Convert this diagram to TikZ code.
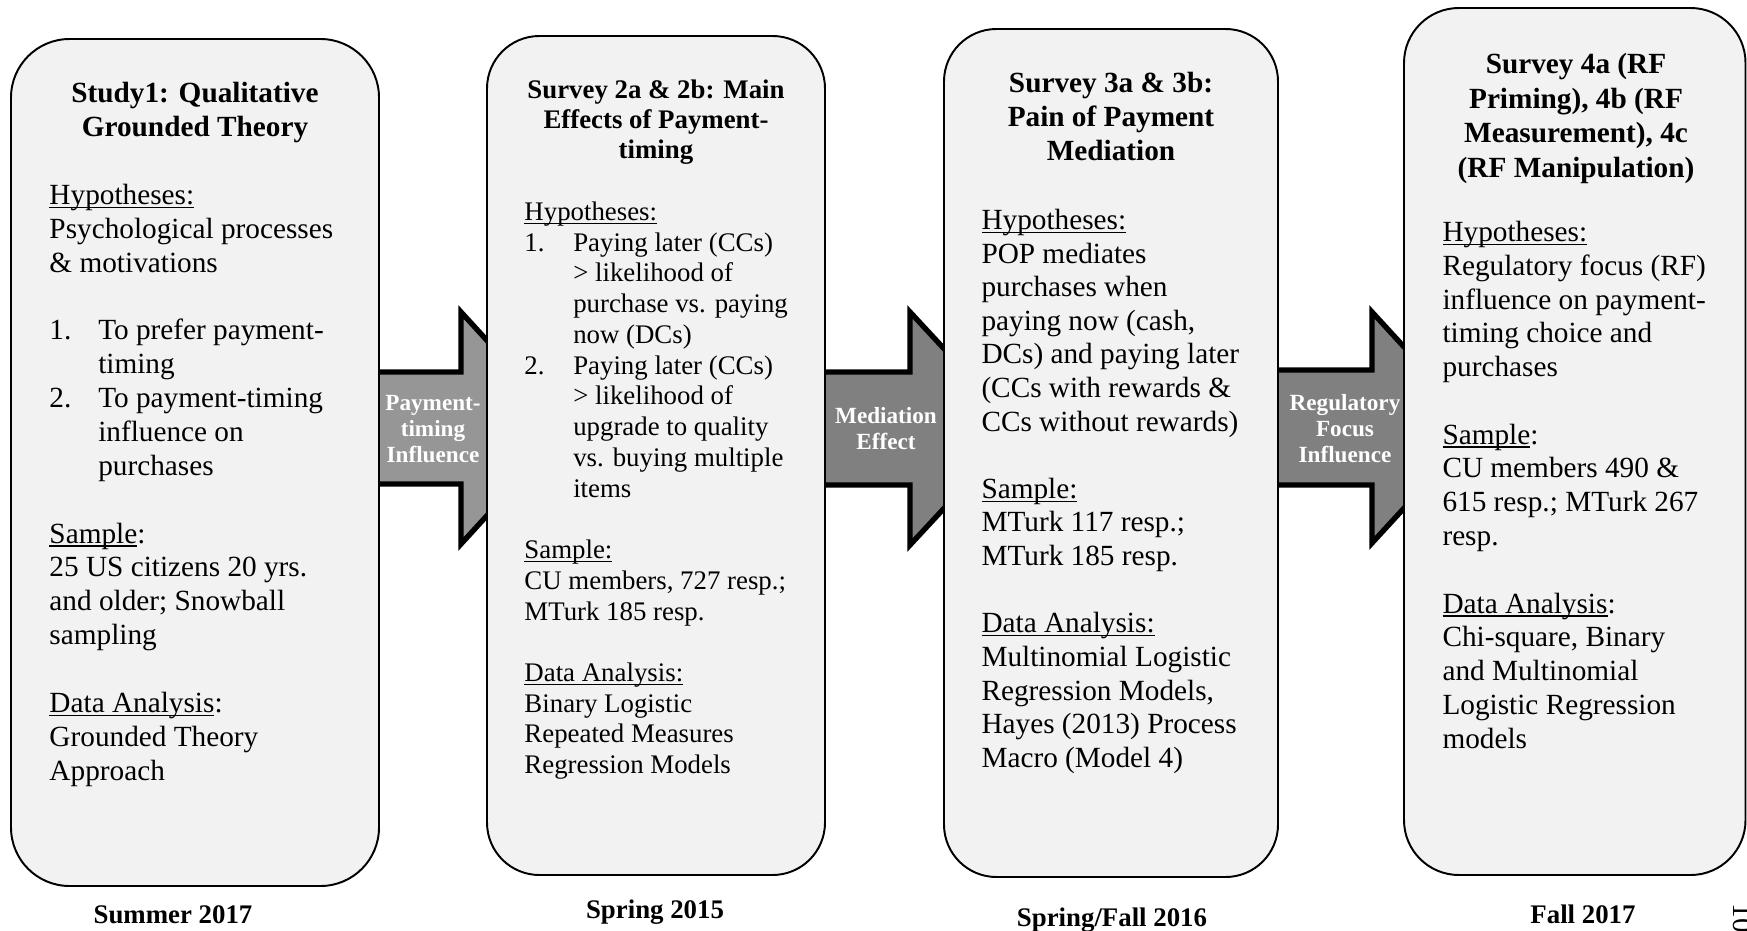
\documentclass[tikz,border=0pt]{standalone}
\usepackage{fontspec}
\setmainfont{Liberation Serif}
\definecolor{boxfill}{HTML}{F2F2F2}
\definecolor{arrowlight}{HTML}{969696}
\definecolor{arrowdark}{HTML}{808080}
\newcommand\ulin[1]{\leavevmode\setbox0\hbox{#1}\rlap{\rule[-1.5pt]{\wd0}{0.6pt}}\box0}
\newcommand\itm[1]{\makebox[20pt][l]{#1}}
\newcommand\ind{\hspace*{20pt}}
\tikzset{
  x=0.41pt, y=-0.41pt,
  studybox/.style={draw=black, line width=0.8pt, fill=boxfill, inner sep=0pt},
  blockarrow/.style={draw=black, line width=2.2pt, line join=miter},
  txt/.style={inner sep=0pt, text=black},
  arrowlabel/.style={inner sep=0pt, text=white, anchor=base},
  datelabel/.style={inner sep=0pt, anchor=base, font=\fontsize{11}{13}\selectfont\bfseries},
}
\begin{document}
\begin{tikzpicture}
\useasboundingbox (0,0) rectangle (1747,930);

% block arrows (drawn behind the boxes)
\draw[blockarrow, fill=arrowlight] (340,372) -- (461,372) -- (461,312) -- (567,428) -- (461,544) -- (461,484) -- (340,484) -- cycle;
\draw[blockarrow, fill=arrowdark] (790,372) -- (910,372) -- (910,312) -- (1018,428.5) -- (910,545) -- (910,485) -- (790,485) -- cycle;
\draw[blockarrow, fill=arrowdark] (1250,370) -- (1372,370) -- (1372,312) -- (1478,427.5) -- (1372,543) -- (1372,485) -- (1250,485) -- cycle;

% study boxes
\node[studybox, rounded corners=24pt, minimum width=368*0.41pt, minimum height=847*0.41pt] (b1) at (195,462.5) {};
\node[studybox, rounded corners=21.5pt, minimum width=338*0.41pt, minimum height=839*0.41pt] (b2) at (656,455.5) {};
\node[studybox, rounded corners=21.5pt, minimum width=334*0.41pt, minimum height=848*0.41pt] (b3) at (1111,453) {};
\node[studybox, rounded corners=22.5pt, minimum width=341.5*0.41pt, minimum height=867*0.41pt] (b4) at (1574.75,441.5) {};

% box 1
\node[txt, anchor=base] (t1) at (195,102.5) {\parbox[t]{150pt}{\centering\fontsize{12}{13.94}\selectfont\bfseries
Study1: Qualitative\\Grounded Theory}};
\node[txt, anchor=base west] (c1) at (49,204.5) {\parbox[t]{140pt}{\raggedright\fontsize{12}{13.88}\selectfont
\ulin{Hypotheses:}\\
Psychological processes\\
\& motivations\\[13.88pt]
\itm{1.}To prefer payment-\\
\ind timing\\
\itm{2.}To payment-timing\\
\ind influence on\\
\ind purchases\\[13.88pt]
\ulin{Sample}:\\
25 US citizens 20 yrs.\\
and older; Snowball\\
sampling\\[13.88pt]
\ulin{Data Analysis}:\\
Grounded Theory\\
Approach}};

% box 2
\node[txt, anchor=base] (t2) at (656,98) {\parbox[t]{135pt}{\centering\fontsize{11}{12.3}\selectfont\bfseries
Survey 2a \& 2b: Main\\Effects of Payment-\\timing}};
\node[txt, anchor=base west] (c2) at (524,220.5) {\parbox[t]{130pt}{\raggedright\fontsize{11}{12.6}\selectfont
\ulin{Hypotheses:}\\
\itm{1.}Paying later (CCs)\\
\ind > likelihood of\\
\ind purchase vs. paying\\
\ind now (DCs)\\
\itm{2.}Paying later (CCs)\\
\ind > likelihood of\\
\ind upgrade to quality\\
\ind vs. buying multiple\\
\ind items\\[12.6pt]
\ulin{Sample:}\\
CU members, 727 resp.;\\
MTurk 185 resp.\\[12.6pt]
\ulin{Data Analysis:}\\
Binary Logistic\\
Repeated Measures\\
Regression Models}};

% box 3
\node[txt, anchor=base] (t3) at (1111,92) {\parbox[t]{135pt}{\centering\fontsize{12}{14.1}\selectfont\bfseries
Survey 3a \& 3b:\\Pain of Payment\\Mediation}};
\node[txt, anchor=base west] (c3) at (981,229.5) {\parbox[t]{130pt}{\raggedright\fontsize{12}{13.78}\selectfont
\ulin{Hypotheses:}\\
POP mediates\\
purchases when\\
paying now (cash,\\
DCs) and paying later\\
(CCs with rewards \&\\
CCs without rewards)\\[13.78pt]
\ulin{Sample:}\\
MTurk 117 resp.;\\
MTurk 185 resp.\\[13.78pt]
\ulin{Data Analysis:}\\
Multinomial Logistic\\
Regression Models,\\
Hayes (2013) Process\\
Macro (Model 4)}};

% box 4
\node[txt, anchor=base] (t4) at (1576,73.5) {\parbox[t]{135pt}{\centering\fontsize{12}{14.2}\selectfont\bfseries
Survey 4a (RF\\Priming), 4b (RF\\Measurement), 4c\\(RF Manipulation)}};
\node[txt, anchor=base west] (c4) at (1442,241.5) {\parbox[t]{130pt}{\raggedright\fontsize{12}{13.85}\selectfont
\ulin{Hypotheses:}\\
Regulatory focus (RF)\\
influence on payment-\\
timing choice and\\
purchases\\[13.85pt]
\ulin{Sample}:\\
CU members 490 \&\\
615 resp.; MTurk 267\\
resp.\\[13.85pt]
\ulin{Data Analysis}:\\
Chi-square, Binary\\
and Multinomial\\
Logistic Regression\\
models}};

% arrow labels
\node[arrowlabel] (l1) at (433,410) {\parbox[t]{50pt}{\centering\fontsize{9.5}{10.7}\selectfont\bfseries Payment-\\timing\\Influence}};
\node[arrowlabel] (l2) at (886,423) {\parbox[t]{50pt}{\centering\fontsize{9.5}{10.7}\selectfont\bfseries Mediation\\Effect}};
\node[arrowlabel] (l3) at (1345,410) {\parbox[t]{50pt}{\centering\fontsize{9.5}{10.7}\selectfont\bfseries Regulatory\\Focus\\Influence}};

% date labels
\node[datelabel] (d1) at (173,923) {Summer 2017};
\node[datelabel] (d2) at (655,918) {Spring 2015};
\node[datelabel] (d3) at (1112,926) {Spring/Fall 2016};
\node[datelabel] (d4) at (1583,923) {Fall 2017};

% page number, rotated and cut by the edge
\node[inner sep=0pt, rotate=-90, anchor=base west, font=\fontsize{12}{14}\selectfont] (pg) at (1733,903) {10};
\end{tikzpicture}
\end{document}
